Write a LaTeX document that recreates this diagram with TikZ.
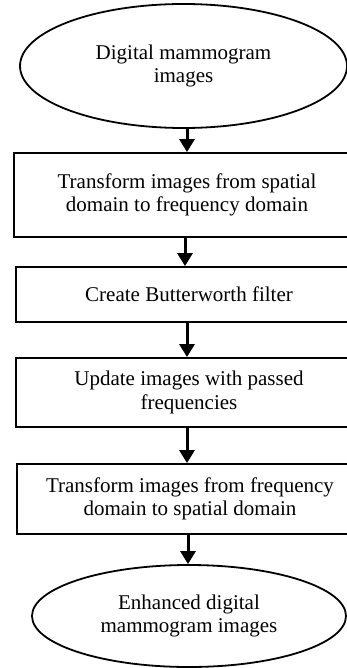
\documentclass[tikz,border=0pt]{standalone}
\usepackage{fontspec}
\setmainfont{Liberation Serif}
\usetikzlibrary{shapes.geometric,arrows.meta}
\begin{document}
\begin{tikzpicture}[x=1pt,y=-1pt,
  txt/.style={font=\fontsize{21}{23.5}\selectfont, align=center, inner sep=0pt},
  procbox/.style={txt, draw, line width=1.8pt, rectangle, minimum width=346pt},
  term/.style={txt, draw, line width=1.8pt, ellipse},
  flow/.style={line width=3pt, -{Triangle[length=13pt,width=15pt]}}]
\useasboundingbox (0,0) rectangle (347,668);
\clip (0,0) rectangle (347,668);
\node[term, minimum width=327pt, minimum height=124pt] (e1) at (183.5,66) {Digital mammogram\\images};
\node[procbox, minimum height=84pt] (b1) at (187,195) {Transform images from spatial\\domain to frequency domain};
\node[procbox, minimum height=55pt] (b2) at (189,294.5) {Create Butterworth filter};
\node[procbox, minimum height=69pt] (b3) at (189,392.5) {Update images with passed\\frequencies};
\node[procbox, minimum height=70pt] (b4) at (190,499) {Transform images from frequency\\domain to spatial domain};
\node[term, minimum width=314pt, minimum height=102pt] (e2) at (189,616) {Enhanced digital\\mammogram images};
\coordinate (x1) at (187,0);
\coordinate (x2) at (185,0);
\coordinate (x3) at (187,0);
\coordinate (x4) at (187,0);
\coordinate (x5) at (188,0);
\draw[flow] (x1 |- e1.south) -- (x1 |- b1.north);
\draw[flow] (x2 |- b1.south) -- (x2 |- b2.north);
\draw[flow] (x3 |- b2.south) -- (x3 |- b3.north);
\draw[flow] (x4 |- b3.south) -- (x4 |- b4.north);
\draw[flow] (x5 |- b4.south) -- (x5 |- e2.north);
\end{tikzpicture}
\end{document}
